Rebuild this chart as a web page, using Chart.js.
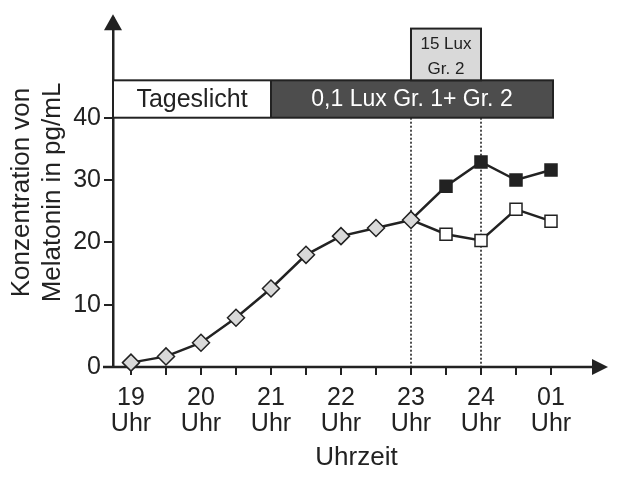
<!DOCTYPE html>
<html>
<head>
<meta charset="utf-8">
<script src="https://cdn.jsdelivr.net/npm/chart.js@4.4.0/dist/chart.umd.min.js"></script>
<style>
  body { margin: 0; background: #fff; }
  canvas { display: block; }
</style>
</head>
<body>
<canvas id="melChart" width="628" height="492"></canvas>
<script>
// Uhrzeit in Stunden (24 = Mitternacht, 25 = 01 Uhr)
const baseTimes = [19, 19.5, 20, 20.5, 21, 21.5, 22, 22.5, 23];
const baseValues = [0.7, 1.7, 3.9, 7.9, 12.6, 18.0, 21.0, 22.3, 23.6];

const splitTimes = [23.5, 24, 24.5, 25];
const gr1Values = [29.0, 32.9, 30.0, 31.6];
const gr2Values = [21.3, 20.3, 25.3, 23.4];

const hourLabels = ['19', '20', '21', '22', '23', '24', '01'];
const yTicks = [0, 10, 20, 30, 40];

const bannerDay = 'Tageslicht';
const bannerDark = '0,1 Lux Gr. 1+ Gr. 2';
const bannerLight = ['15 Lux', 'Gr. 2'];

const ink = '#222';
const fam = "'Liberation Sans', Arial, sans-serif";
Chart.defaults.font.family = fam;
Chart.defaults.color = ink;

function pts(xs, ys) {
  return xs.map((x, i) => ({ x: x, y: ys[i] }));
}
// Gruppen-Linien beginnen am letzten gemeinsamen Punkt (23 Uhr)
const lastBase = { x: baseTimes[baseTimes.length - 1], y: baseValues[baseValues.length - 1] };

const decor = {
  id: 'decor',
  beforeDatasetsDraw(chart) {
    const { ctx, scales: { x, y }, chartArea } = chart;
    ctx.save();
    // gepunktete Linien bei 23 und 24 Uhr
    ctx.strokeStyle = ink;
    ctx.lineWidth = 1.6;
    ctx.setLineDash([2, 2]);
    [23, 24].forEach(t => {
      const px = Math.round(x.getPixelForValue(t));
      ctx.beginPath();
      ctx.moveTo(px, y.getPixelForValue(40));
      ctx.lineTo(px, y.getPixelForValue(0));
      ctx.stroke();
    });
    ctx.setLineDash([]);

    // Balken oben
    const top = y.getPixelForValue(46);
    const bot = y.getPixelForValue(40);
    const left = chartArea.left;
    const mid = x.getPixelForValue(21);
    const right = x.getPixelForValue(25) + 2;
    ctx.fillStyle = '#fff';
    ctx.fillRect(left, top, mid - left, bot - top);
    ctx.fillStyle = '#4d4d4d';
    ctx.fillRect(mid, top, right - mid, bot - top);
    ctx.lineWidth = 2;
    ctx.strokeStyle = ink;
    ctx.strokeRect(left, top, right - left, bot - top);
    ctx.beginPath();
    ctx.moveTo(mid, top);
    ctx.lineTo(mid, bot);
    ctx.stroke();

    // 15 Lux Kasten
    const bx0 = x.getPixelForValue(23);
    const bx1 = x.getPixelForValue(24);
    const btop = y.getPixelForValue(54.3);
    ctx.fillStyle = '#d9d9d9';
    ctx.fillRect(bx0, btop, bx1 - bx0, top - btop);
    ctx.strokeRect(bx0, btop, bx1 - bx0, top - btop);

    ctx.textAlign = 'center';
    ctx.textBaseline = 'middle';
    ctx.font = '25px ' + fam;
    ctx.fillStyle = ink;
    ctx.fillText(bannerDay, (left + mid) / 2, (top + bot) / 2 + 1);
    ctx.font = '23px ' + fam;
    ctx.fillStyle = '#fff';
    ctx.fillText(bannerDark, (mid + right) / 2, (top + bot) / 2 + 1);
    ctx.font = '17px ' + fam;
    ctx.fillStyle = ink;
    ctx.fillText(bannerLight[0], (bx0 + bx1) / 2, btop + 16);
    ctx.fillText(bannerLight[1], (bx0 + bx1) / 2, btop + 41);

    // Achsenpfeile und Verlaengerungen
    const x0 = y.getPixelForValue(0);
    const tip = y.getPixelForValue(56.6);
    ctx.lineWidth = 2.5;
    ctx.beginPath();
    ctx.moveTo(left - 10, x0);
    ctx.lineTo(chartArea.right, x0);
    ctx.stroke();
    ctx.fillStyle = ink;
    ctx.beginPath();
    ctx.moveTo(chartArea.right + 8, x0);
    ctx.lineTo(chartArea.right - 8, x0 - 8);
    ctx.lineTo(chartArea.right - 8, x0 + 8);
    ctx.closePath();
    ctx.fill();
    ctx.beginPath();
    ctx.moveTo(left, tip);
    ctx.lineTo(left - 9, tip + 16);
    ctx.lineTo(left + 9, tip + 16);
    ctx.closePath();
    ctx.fill();
    ctx.restore();
  }
};

const pointBase = {
  borderColor: ink,
  borderWidth: 2.5,
  pointBorderWidth: 1.5,
  pointBorderColor: ink,
  pointHoverRadius: 8,
  clip: false,
  tension: 0
};

new Chart(document.getElementById('melChart'), {
  type: 'line',
  data: {
    datasets: [
      Object.assign({}, pointBase, {
        label: 'Tageslicht',
        data: pts(baseTimes, baseValues),
        pointStyle: 'rectRot',
        pointRadius: 8.5,
        pointBackgroundColor: '#d9d9d9'
      }),
      Object.assign({}, pointBase, {
        label: 'Gr. 1',
        data: [lastBase].concat(pts(splitTimes, gr1Values)),
        pointStyle: 'rect',
        pointRadius: [0].concat(splitTimes.map(() => 8.5)),
        pointBackgroundColor: '#222'
      }),
      Object.assign({}, pointBase, {
        label: 'Gr. 2',
        data: [lastBase].concat(pts(splitTimes, gr2Values)),
        pointStyle: 'rect',
        pointRadius: [0].concat(splitTimes.map(() => 8.5)),
        pointBackgroundColor: '#fff'
      })
    ]
  },
  options: {
    responsive: false,
    animation: false,
    devicePixelRatio: 1,
    layout: { padding: { top: 11, right: 28, left: 0, bottom: 0 } },
    plugins: { legend: { display: false }, tooltip: { enabled: false } },
    scales: {
      x: {
        type: 'linear',
        min: 18.743,
        max: 25.7,
        afterFit: s => { s.height = 125; },
        afterBuildTicks: s => {
          s.ticks = [];
          for (let t = 19; t <= 25; t += 0.5) s.ticks.push({ value: t });
        },
        border: { display: false },
        grid: { drawOnChartArea: false, drawTicks: true, tickLength: 8, color: ink, lineWidth: 2 },
        ticks: {
          autoSkip: false,
          maxRotation: 0,
          padding: 10,
          font: { size: 25, lineHeight: 1.05 },
          callback: v => Number.isInteger(v) ? [hourLabels[v - 19], 'Uhr'] : ''
        },
        title: {
          display: true,
          text: 'Uhrzeit',
          font: { size: 26 },
          padding: { top: 4, bottom: 19 }
        }
      },
      y: {
        min: 0,
        max: 56,
        afterFit: s => { s.width = 113; },
        afterBuildTicks: s => { s.ticks = yTicks.map(v => ({ value: v })); },
        border: { display: true, color: ink, width: 2.5 },
        grid: { drawOnChartArea: false, drawTicks: true, tickLength: 9, color: ink, lineWidth: 2 },
        ticks: { padding: 3, font: { size: 25 } },
        title: {
          display: true,
          text: ['Konzentration von', 'Melatonin in pg/mL'],
          font: { size: 26, lineHeight: 1.2 },
          padding: { top: 6, bottom: 0 }
        }
      }
    }
  },
  plugins: [decor]
});
</script>
</body>
</html>
